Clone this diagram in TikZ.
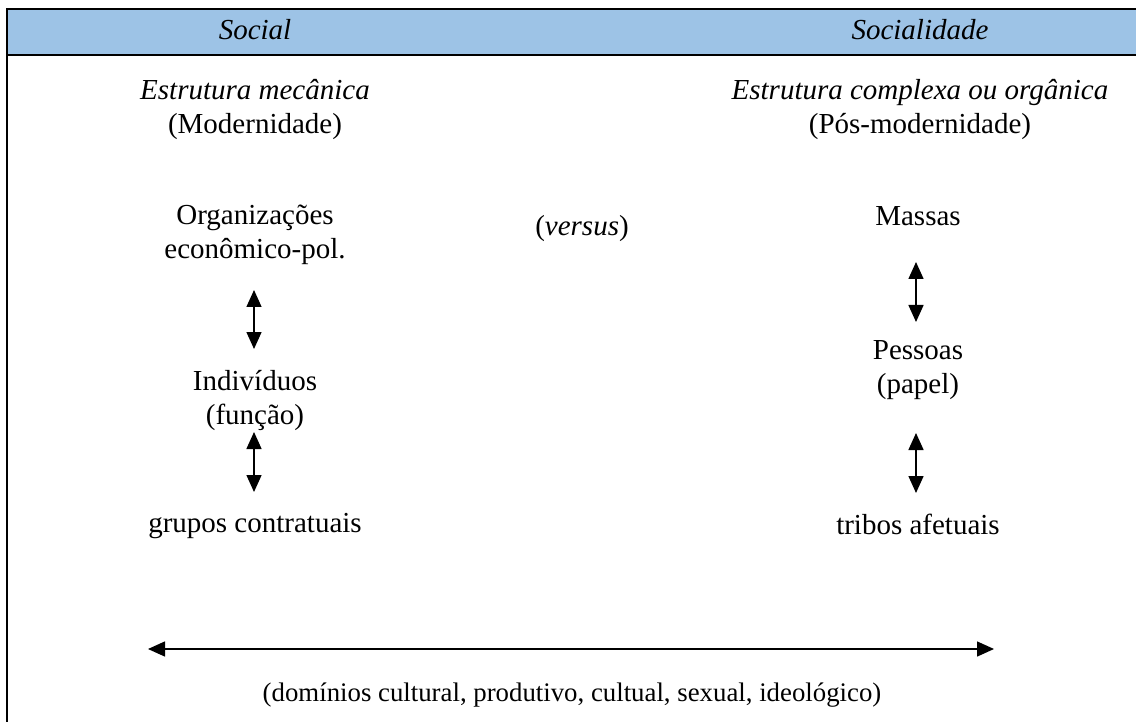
\documentclass[tikz,border=0pt]{standalone}
\usepackage{fontspec}
\setmainfont{Liberation Serif}
\usetikzlibrary{arrows.meta}
\definecolor{headblue}{RGB}{157,195,230}
\tikzset{
  lbl/.style={font=\fontsize{29}{34}\selectfont, align=center, inner sep=0pt},
  hdr/.style={font=\fontsize{29}{34}\selectfont\itshape, inner sep=0pt},
  rule/.style={line width=2.6pt},
  link/.style={line width=1.5pt, {Triangle[width=15pt,length=17pt]}-{Triangle[width=15pt,length=17pt]}}
}
\begin{document}
\begin{tikzpicture}[x=1pt,y=-1pt]
\useasboundingbox (0,0) rectangle (1136,722);
% header band
\fill[headblue] (7,9) rectangle (1136,55);
\draw[rule] (1136,9) -- (7,9) -- (7,722);
\draw[rule] (7,55) -- (1136,55);
\node[hdr] (social) at (255,30) {Social};
\node[hdr] (socialidade) at (920,30) {Socialidade};

% left column
\node[lbl] (mec) at (255,110) {\textit{Estrutura mecânica}\\(Modernidade)};
\node[lbl] (org) at (255,235) {Organizações\\econômico-pol.};
\node[lbl] (ind) at (255,401) {Indivíduos\\(função)};
\node[lbl] (grp) at (255,526) {grupos contratuais};

% middle
\node[lbl] (vs) at (582,229) {(\textit{versus})};

% right column
\node[lbl] (comp) at (920,110) {\textit{Estrutura complexa ou orgânica}\\(Pós-modernidade)};
\node[lbl] (mas) at (918,216) {Massas};
\node[lbl] (pes) at (918,370) {Pessoas\\(papel)};
\node[lbl] (tri) at (918,524) {tribos afetuais};

% vertical links
\coordinate (a1t) at (254,290); \coordinate (a1b) at (254,349);
\coordinate (a2t) at (254,432); \coordinate (a2b) at (254,492);
\coordinate (b1t) at (916,262); \coordinate (b1b) at (916,322);
\coordinate (b2t) at (916,433); \coordinate (b2b) at (916,493);
\draw[link] (a1t) -- (a1b);
\draw[link] (a2t) -- (a2b);
\draw[link] (b1t) -- (b1b);
\draw[link] (b2t) -- (b2b);

% horizontal span
\coordinate (hl) at (148,649); \coordinate (hr) at (994,649);
\draw[link] (hl) -- (hr);
\node[lbl, font=\fontsize{26.8}{32}\selectfont] (dom) at (572,695) {(domínios cultural, produtivo, cultual, sexual, ideológico)};
\end{tikzpicture}
\end{document}
